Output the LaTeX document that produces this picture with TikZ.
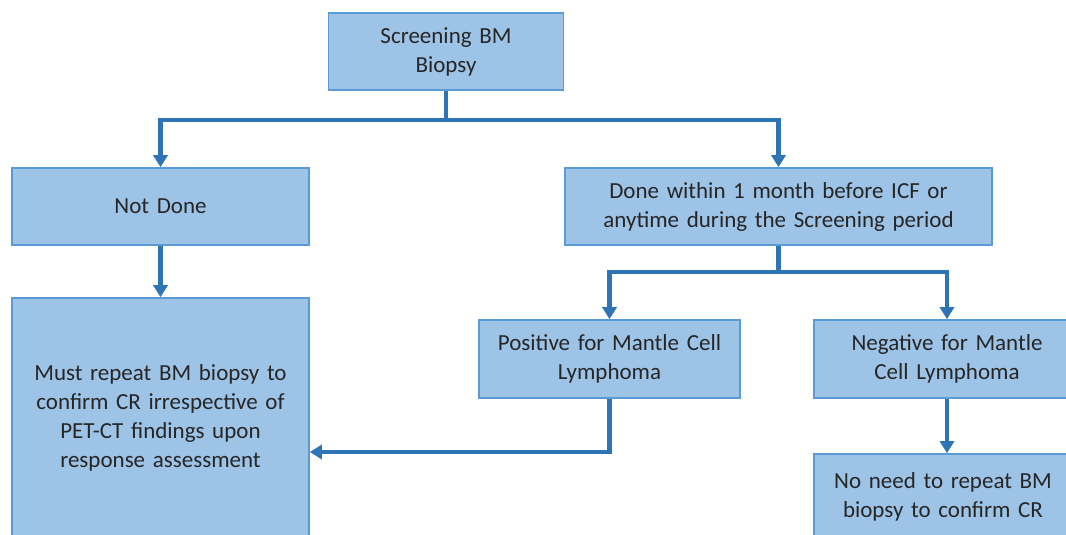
\documentclass[tikz,border=0pt]{standalone}
\usepackage{fontspec}
\setmainfont{Carlito}
\usetikzlibrary{arrows.meta}
\definecolor{boxfill}{HTML}{9DC3E6}
\definecolor{boxline}{HTML}{5B9BD5}
\definecolor{linkblue}{HTML}{2E75B6}

\begin{document}
\begin{tikzpicture}[
  x=1pt, y=-1pt,
  stepbox/.style={rectangle, draw=boxline, fill=boxfill, line width=1.6pt,
                  inner sep=0pt, align=center, text=black!85,
                  font=\fontsize{23}{29}\selectfont},
  link/.style={line width=4.5pt, linkblue,
               -{Triangle[width=14pt,length=12pt]}},
  plain/.style={line width=4.5pt, linkblue},
]
  \useasboundingbox (0,0) rectangle (1066,535);
  \clip (0,0) rectangle (1066,535);

  % --- Boxes ---
  \node[stepbox, minimum width=235pt, minimum height=77pt, text width=220pt]
    (screen) at (446, 51.5) {Screening BM\\Biopsy};
  \node[stepbox, minimum width=297pt, minimum height=77pt, text width=280pt]
    (notdone) at (160.5, 206.5) {Not Done};
  \node[stepbox, minimum width=427pt, minimum height=77pt, text width=410pt]
    (done) at (778.5, 206.5) {Done within 1 month before ICF or\\anytime during the Screening period};
  \node[stepbox, minimum width=297pt, minimum height=240pt, text width=285pt]
    (must) at (160.5, 418) {Must repeat BM biopsy to\\confirm CR irrespective of\\PET-CT findings upon\\response assessment};
  \node[stepbox, minimum width=261pt, minimum height=78pt, text width=250pt]
    (pos) at (609.5, 359) {Positive for Mantle Cell\\Lymphoma};
  \node[stepbox, minimum width=266pt, minimum height=78pt, text width=250pt]
    (neg) at (947, 359) {Negative for Mantle\\Cell Lymphoma};
  \node[stepbox, minimum width=258pt, minimum height=86pt, text width=250pt]
    (noneed) at (943, 497) {No need to repeat BM\\biopsy to confirm CR};

  % --- Connectors ---
  \coordinate (split1) at (446, 120);
  \coordinate (split2) at (778.5, 272);
  \coordinate (bend) at (pos.south |- 0, 452);

  \draw[plain] (screen.south) -- (split1);
  \draw[link] (split1) -| (notdone.north);
  \draw[link] (split1) -| (done.north);

  \draw[link] (notdone.south) -- (must.north);

  \draw[plain] (done.south) -- (split2);
  \draw[link] (split2) -| (pos.north);
  \draw[link] (split2) -| (neg.north);

  \draw[link] (pos.south) -- (bend) -- (bend -| must.east);
  \draw[link] (neg.south) -- (neg.south |- noneed.north);
\end{tikzpicture}
\end{document}
